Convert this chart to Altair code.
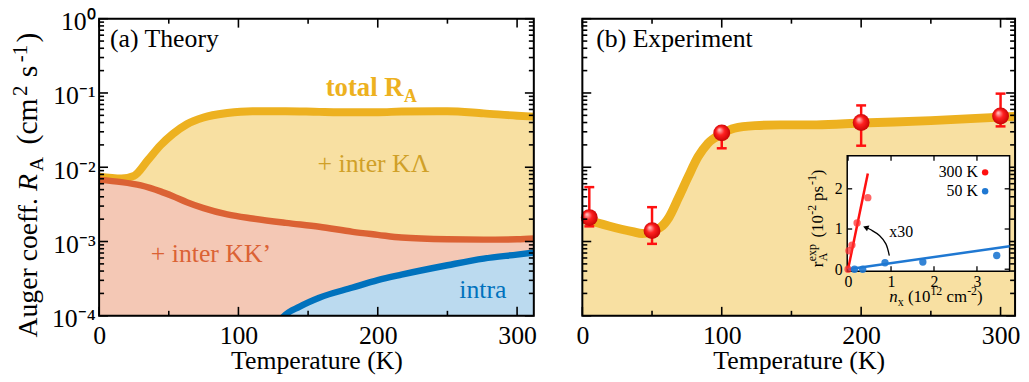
import altair as alt
import pandas as pd

FONT = "Liberation Serif"

# ---------------- panel (a): theory ----------------
T_total = [0, 16, 25, 35, 44, 53, 63, 75, 92, 110, 134, 158, 182, 200, 217, 250, 276, 300, 313]
R_total = [0.00748, 0.00708, 0.00767, 0.01245, 0.0197, 0.0282, 0.0380, 0.0468, 0.0537, 0.0569,
           0.0569, 0.0557, 0.0550, 0.0550, 0.0562, 0.0569, 0.0531, 0.0494, 0.0479]
T_kk = [0, 16, 30, 44, 53, 63, 75, 92, 110, 134, 158, 182, 200, 217, 250, 276, 300, 313]
R_kk = [0.00676, 0.00631, 0.00569, 0.00473, 0.00407, 0.00339, 0.00282, 0.00232, 0.00204,
        0.00178, 0.00158, 0.00135, 0.00123, 0.00113, 0.00107, 0.00106, 0.00107, 0.00110]
T_intra = [125, 133, 144, 158, 182, 200, 217, 250, 276, 300, 313]
R_intra = [6.3e-5, 1.0e-4, 1.33e-4, 1.75e-4, 2.40e-4, 3.02e-4, 3.58e-4, 4.79e-4, 5.89e-4, 6.67e-4, 7.14e-4]

# ---------------- panel (b): experiment ----------------
T_fit = [0, 19, 36, 43, 56, 62, 69, 76, 83, 90, 100, 109, 124, 142, 168, 200, 250, 300, 314]
R_fit = [2.04e-3, 1.62e-3, 1.36e-3, 1.28e-3, 1.55e-3, 2.09e-3, 3.89e-3, 7.48e-3, 0.0138, 0.0209,
         0.0282, 0.0335, 0.0363, 0.0372, 0.0372, 0.0394, 0.0424, 0.0473, 0.0490]
T_exp = [5, 50, 100, 200, 300]
R_exp = [2.1e-3, 1.4e-3, 0.029, 0.040, 0.049]
R_exp_lo = [1.6e-3, 9.3e-4, 0.018, 0.0195, 0.0355]
R_exp_hi = [5.4e-3, 2.9e-3, 0.033, 0.068, 0.098]

# ---------------- inset ----------------
nx_300 = [0.0, 0.02, 0.09, 0.21, 0.46]
r_300 = [0.0, 0.46, 0.60, 1.15, 1.78]
nx_50 = [0.15, 0.34, 0.86, 1.74, 3.46]
r_50 = [0.0, 0.0, 0.16, 0.18, 0.34]
fit300_nx = [0.0, 0.46]
fit300_r = [0.0, 2.38]
fit50_nx = [0.0, 3.76]
fit50_r = [0.0, 0.57]
arrow_nx = [0.96, 0.88, 0.73, 0.53, 0.41]
arrow_r = [0.34, 0.63, 0.84, 0.98, 1.04]
legend_names = ["300 K", "50 K"]
legend_r = [2.41, 1.94]

# ticks / labels
x_ticks_major = [0, 100, 200, 300]
x_ticks_minor = [50, 150, 250]
y_ticks_major = [1e-4, 1e-3, 1e-2, 1e-1, 1]
y_tick_labels = ["10⁻⁴", "10⁻³", "10⁻²", "10⁻¹", "10⁰"]
y_ticks_minor = [m * 10.0 ** e for e in range(-4, 0) for m in range(2, 10)]
inset_x_ticks = [0, 1, 2, 3]
inset_y_ticks = [0, 1, 2]

# colours
YELLOW, YELLOW_FILL = "#EDB120", "#F8E0A2"
YELLOW_TEXT = "#D0A028"
ORANGE, PINK_FILL = "#DB6234", "#F4C8B5"
BLUE, BLUE_FILL = "#0072BD", "#BBDAEF"
RED = "#FF1010"
IBLUE = "#1F78D2"

W_A, W_B, H = 439, 437, 300
XDOM_A, XDOM_B = [0, 312], [0, 310.4]
YDOM = [1e-4, 1]
IX_DOM, IX_RANGE = [-0.02, 3.76], [267.5, 431.5]
IY_DOM, IY_RANGE = [-0.05, 2.82], [255.0, 138.5]


def label_expr(vals, labels):
    pairs = sorted(zip(vals, labels), reverse=True)
    expr = f"'{pairs[-1][1]}'"
    for v, l in reversed(pairs[:-1]):
        expr = f"datum.value > {v / 2} ? '{l}' : " + expr
    return expr


def x_axis():
    return alt.Axis(values=x_ticks_major, format="d", ticks=False, tickSize=0, domain=False, grid=False,
                    labelFont=FONT, labelFontSize=26, labelColor="black", labelPadding=6.5,
                    labelFlush=False, labelOverlap=False,
                    title="Temperature (K)", titleFont=FONT, titleFontSize=26, titleFontWeight="normal",
                    titleColor="black", titlePadding=0)


y_axis_a = alt.Axis(values=y_ticks_major, labelExpr=label_expr(y_ticks_major, y_tick_labels),
                    ticks=False, tickSize=0, domain=False, grid=False, labelFont=FONT, labelFontSize=26,
                    labelColor="black", labelPadding=4, labelOffset=3, labelFlush=False,
                    labelOverlap=False, title=None)

YSCALE = alt.Scale(type="log", domain=YDOM, nice=False)
XA = alt.X("T:Q", scale=alt.Scale(domain=XDOM_A, nice=False, zero=False), axis=x_axis())
YA = alt.Y("R:Q", scale=YSCALE, axis=y_axis_a)
XB = alt.X("T:Q", scale=alt.Scale(domain=XDOM_B, nice=False, zero=False), axis=x_axis())
YB = alt.Y("R:Q", scale=YSCALE, axis=None)


def with_base(T, R):
    return pd.DataFrame({"T": T, "R": R, "Rb": [YDOM[0]] * len(T)})


def piece(text, size, x, y, dx=0, dy=0, color="black", weight="normal", style="normal",
          angle=0, align="left", baseline="alphabetic", data=None):
    row = {"label": text}
    row.update(data or {})
    kw = dict(font=FONT, fontSize=size, dx=dx, dy=dy, color=color, fontWeight=weight,
              fontStyle=style, align=align, baseline=baseline)
    if angle:
        kw["angle"] = angle
    return alt.Chart(pd.DataFrame([row])).mark_text(**kw).encode(x=x, y=y, text="label:N")


def frame_ticks(W, xenc, yenc, xmaj, xmin, ymaj, ymin, maj=9, mnr=5, th=1.6):
    layers = []
    for vals, L in ((ymaj, maj), (ymin, mnr)):
        df = pd.DataFrame({"R": vals})
        for xc in (L / 2, W - L / 2):
            layers.append(alt.Chart(df).mark_tick(orient="horizontal", size=L, thickness=th,
                                                  color="black", opacity=1)
                          .encode(x=alt.value(xc), y=yenc))
    for vals, L in ((xmaj, maj), (xmin, mnr)):
        df = pd.DataFrame({"T": vals})
        for yc in (L / 2, H - L / 2):
            layers.append(alt.Chart(df).mark_tick(orient="vertical", size=L, thickness=th,
                                                  color="black", opacity=1)
                          .encode(y=alt.value(yc), x=xenc))
    return layers


def frame(xdom, xenc, yenc):
    df = pd.DataFrame({"T": [xdom[0]], "T2": [xdom[1]], "R": [YDOM[0]], "R2": [YDOM[1]]})
    return alt.Chart(df).mark_rect(fillOpacity=0, stroke="black", strokeWidth=2).encode(
        x=xenc, x2="T2:Q", y=yenc, y2="R2:Q")


def area(df, fill, xenc, yenc):
    return (alt.Chart(df).mark_area(fill=fill, opacity=1, interpolate="monotone", clip=True)
            .encode(x=xenc, y=yenc, y2="Rb:Q"))


# ================= panel (a) =================
df_total = with_base(T_total, R_total)
df_kk = with_base(T_kk, R_kk)
df_intra = with_base(T_intra, R_intra)

a_layers = [
    area(df_total, YELLOW_FILL, XA, YA),
    area(df_kk, PINK_FILL, XA, YA),
    area(df_intra, BLUE_FILL, XA, YA),
    alt.Chart(df_total).mark_line(color=YELLOW, strokeWidth=8, interpolate="monotone", clip=True)
    .encode(x=XA, y=YA),
    alt.Chart(df_kk).mark_line(color=ORANGE, strokeWidth=6.5, interpolate="monotone", clip=True)
    .encode(x=XA, y=YA),
    alt.Chart(df_intra).mark_line(color=BLUE, strokeWidth=6.5, interpolate="monotone", clip=True)
    .encode(x=XA, y=YA),
    piece("(a) Theory", 26, alt.value(11), alt.value(29)),
    piece("total R", 27, XA, YA, color=YELLOW, weight="bold", data={"T": 162.6, "R": 0.0919}),
    piece("A", 18, XA, YA, dx=79, dy=6, color=YELLOW, weight="bold", data={"T": 162.6, "R": 0.0919}),
    piece("+ inter KΛ", 26, XA, YA, color=YELLOW_TEXT, data={"T": 156.8, "R": 0.0087}),
    piece("+ inter KK’", 26, XA, YA, color=ORANGE, data={"T": 37.1, "R": 5.27e-4}),
    piece("intra", 26, XA, YA, color=BLUE, data={"T": 258.5, "R": 1.75e-4}),
]
# y-axis title built from pieces (rotated; dx runs along the text)
title_parts = [("Auger coeff.", 28, 0, 0, "normal"), ("R", 28, 148, 0, "italic"),
               ("A", 20, 168, 6, "normal"), ("(cm", 30, 195, 0, "normal"),
               ("2", 21, 244, -10, "normal"), ("s", 30, 263, 0, "normal"),
               ("-1", 21, 278, -10, "normal"), (")", 30, 298, 0, "normal")]
for t, s, dx, dy, st in title_parts:
    a_layers.append(piece(t, s, alt.value(-63), alt.value(322), dx=dx, dy=dy, style=st, angle=270))
a_layers += frame_ticks(W_A, XA, YA, x_ticks_major, x_ticks_minor, y_ticks_major, y_ticks_minor)
a_layers.append(frame(XDOM_A, XA, YA))
panel_a = alt.layer(*a_layers).properties(width=W_A, height=H)

# ================= panel (b) =================
df_fit = with_base(T_fit, R_fit)
df_exp = pd.DataFrame({"T": T_exp, "R": R_exp, "lo": R_exp_lo, "hi": R_exp_hi})
sphere = alt.RadialGradient(gradient="radial",
                            stops=[alt.GradientStop(color="#ffd0d0", offset=0),
                                   alt.GradientStop(color="#ff2020", offset=0.45),
                                   alt.GradientStop(color="#c00000", offset=1)],
                            x1=0.35, y1=0.3, r1=0, x2=0.5, y2=0.5, r2=0.55)
b_main = [
    area(df_fit, YELLOW_FILL, XB, YB),
    alt.Chart(df_fit).mark_line(color=YELLOW, strokeWidth=9, interpolate="monotone", clip=True)
    .encode(x=XB, y=YB),
    alt.Chart(df_exp).mark_rule(color=RED, strokeWidth=2.5)
    .encode(x=XB, y=alt.Y("lo:Q", scale=YSCALE, axis=None), y2="hi:Q"),
    alt.Chart(df_exp).mark_point(shape="stroke", size=100, strokeWidth=2.5, color=RED, opacity=1)
    .encode(x=XB, y=alt.Y("lo:Q", scale=YSCALE, axis=None)),
    alt.Chart(df_exp).mark_point(shape="stroke", size=100, strokeWidth=2.5, color=RED, opacity=1)
    .encode(x=XB, y=alt.Y("hi:Q", scale=YSCALE, axis=None)),
    alt.Chart(df_exp).mark_point(shape="circle", filled=True, size=290, fill=sphere, opacity=1,
                                 strokeWidth=0).encode(x=XB, y=YB),
    piece("(b) Experiment", 26, alt.value(14), alt.value(29)),
]
b_main += frame_ticks(W_B, XB, YB, x_ticks_major, x_ticks_minor, y_ticks_major, y_ticks_minor)
b_main.append(frame(XDOM_B, XB, YB))
main_b = alt.layer(*b_main)

# ---- inset ----
XI = alt.X("nx:Q", scale=alt.Scale(domain=IX_DOM, range=IX_RANGE, nice=False, zero=False),
           axis=alt.Axis(orient="bottom", offset=IY_RANGE[0] - H, values=inset_x_ticks, ticks=False,
                         tickSize=0, domain=False, grid=False, labelFont=FONT, labelFontSize=16,
                         labelColor="black", labelPadding=2, labelFlush=False, title=None, zindex=5))
YI = alt.Y("r:Q", scale=alt.Scale(domain=IY_DOM, range=IY_RANGE, nice=False, zero=False),
           axis=alt.Axis(orient="left", offset=-IX_RANGE[0], values=inset_y_ticks, ticks=False,
                         tickSize=0, domain=False, grid=False, labelFont=FONT, labelFontSize=16,
                         labelColor="black", labelPadding=5, labelFlush=False, title=None, zindex=5))

df_box = pd.DataFrame({"nx": [IX_DOM[0]], "nx2": [IX_DOM[1]], "r": [IY_DOM[0]], "r2": [IY_DOM[1]]})
inset = [
    alt.Chart(df_box).mark_rect(fill="white", stroke="black", strokeWidth=1.5)
    .encode(x=XI, x2="nx2:Q", y=YI, y2="r2:Q"),
]
IL = 5
for yc in (IY_RANGE[0] - IL / 2, IY_RANGE[1] + IL / 2):
    inset.append(alt.Chart(pd.DataFrame({"nx": inset_x_ticks}))
                 .mark_tick(orient="vertical", size=IL, thickness=1.3, color="black", opacity=1)
                 .encode(x=XI, y=alt.value(yc)))
for xc in (IX_RANGE[0] + IL / 2, IX_RANGE[1] - IL / 2):
    inset.append(alt.Chart(pd.DataFrame({"r": inset_y_ticks}))
                 .mark_tick(orient="horizontal", size=IL, thickness=1.3, color="black", opacity=1)
                 .encode(y=YI, x=alt.value(xc)))
inset += [
    alt.Chart(pd.DataFrame({"nx": fit300_nx, "r": fit300_r})).mark_line(color=RED, strokeWidth=2.5, clip=True)
    .encode(x=XI, y=YI),
    alt.Chart(pd.DataFrame({"nx": fit50_nx, "r": fit50_r})).mark_line(color=IBLUE, strokeWidth=2.5, clip=True)
    .encode(x=XI, y=YI),
    alt.Chart(pd.DataFrame({"nx": nx_300, "r": r_300})).mark_circle(color="#FF3030", size=55, opacity=0.75)
    .encode(x=XI, y=YI),
    alt.Chart(pd.DataFrame({"nx": nx_50, "r": r_50})).mark_circle(color=IBLUE, size=55, opacity=0.9)
    .encode(x=XI, y=YI),
    alt.Chart(pd.DataFrame({"nx": [3.19, 3.19], "r": legend_r, "c": legend_names}))
    .mark_circle(size=42, opacity=1)
    .encode(x=XI, y=YI, color=alt.Color("c:N", scale=alt.Scale(domain=legend_names, range=[RED, IBLUE]),
                                         legend=None)),
    alt.Chart(pd.DataFrame({"nx": [3.02, 3.02], "r": legend_r, "label": legend_names}))
    .mark_text(font=FONT, fontSize=16, align="right", baseline="middle", color="black")
    .encode(x=XI, y=YI, text="label:N"),
    alt.Chart(pd.DataFrame({"nx": arrow_nx, "r": arrow_r, "i": list(range(len(arrow_nx)))}))
    .mark_line(color="black", strokeWidth=1.3, interpolate="cardinal")
    .encode(x=XI, y=YI, order="i:Q"),
    alt.Chart(pd.DataFrame({"nx": arrow_nx[-1:], "r": arrow_r[-1:]}))
    .mark_point(shape="triangle-up", angle=292, size=40, filled=True, color="black", opacity=1)
    .encode(x=XI, y=YI),
    piece("x30", 16, XI, YI, baseline="middle", data={"nx": 0.96, "r": 0.93}),
]
# inset axis titles (composed pieces, no leading spaces)
ix_parts = [("n", 17, 0, 0, "italic"), ("x", 12, 8.5, 4, "normal"), ("(10", 17, 18.8, 0, "normal"),
            ("12", 12, 41.5, -7, "normal"), ("cm", 17, 57.8, 0, "normal"), ("-2", 12, 78.6, -7, "normal"),
            (")", 17, 88.6, 0, "normal")]
for t, s, dx, dy, st in ix_parts:
    inset.append(piece(t, s, alt.value(310), alt.value(285.7), dx=dx, dy=dy, style=st))
iy_parts = [("r", 17, 0, 0), ("A", 12, 6, 4), ("exp", 12, 6, -7), ("(10", 17, 30, 0),
            ("-2", 12, 53, -7), ("ps", 17, 67, 0), ("-1", 12, 83, -7), (")", 17, 93, 0)]
for t, s, dx, dy in iy_parts:
    inset.append(piece(t, s, alt.value(243), alt.value(251), dx=dx, dy=dy, angle=270))
inset_layer = alt.layer(*inset)

panel_b = (alt.layer(main_b, inset_layer)
           .resolve_scale(x="independent", y="independent")
           .resolve_axis(x="independent", y="independent")
           .properties(width=W_B, height=H))

chart = (alt.hconcat(panel_a, panel_b, spacing=38)
         .properties(padding={"left": 1, "top": -2, "right": 0, "bottom": 0}, background="white")
         .configure_view(strokeWidth=0)
         .configure(font=FONT))

chart.save("out.html", embed_options={"renderer": "svg", "actions": False})
